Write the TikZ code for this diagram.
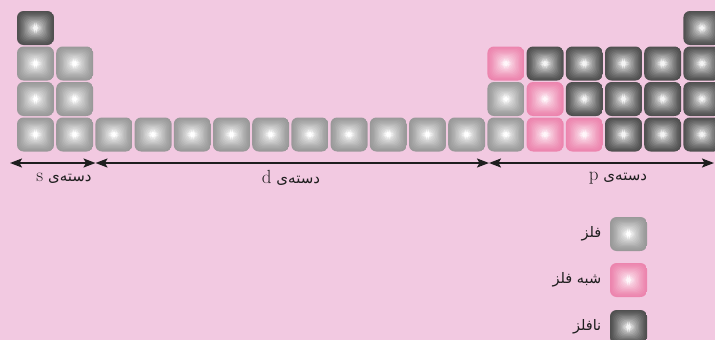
\documentclass[tikz,border=0pt]{standalone}
\usepackage{fontspec}
\usepackage{tikz}
\usetikzlibrary{arrows.meta,positioning,calc}
\newfontfamily\fa[Script=Arabic]{DejaVu Sans}
\TeXXeTstate=1
\definecolor{bgPink}{HTML}{F2C9E1}
\definecolor{metEdge}{HTML}{999999}
\definecolor{metMid}{HTML}{FFFFFF}
\definecolor{semEdge}{HTML}{EC85AE}
\definecolor{semMid}{HTML}{FFF6FA}
\definecolor{nonEdge}{HTML}{505050}
\definecolor{nonMid}{HTML}{F4F4F4}
\definecolor{inkDark}{HTML}{1E1E1E}
\tikzset{
  tile/.style 2 args={rounded corners=6.5pt,minimum width=37pt,minimum height=34pt,
    inner sep=0pt,path picture={
      \foreach \k in {0,...,13}{
        \pgfmathtruncatemacro\pc{100-100*(\k/13)^1.3}
        \fill[#1!\pc!#2]
          ($(path picture bounding box.south west)!\k/28!(path picture bounding box.north east)$)
          rectangle
          ($(path picture bounding box.north east)!\k/28!(path picture bounding box.south west)$);
      }}},
  metal/.style={tile={metEdge}{metMid}},
  semi/.style={tile={semEdge}{semMid}},
  nonmetal/.style={tile={nonEdge}{nonMid}},
  band/.style={line width=1.8pt,draw=inkDark,
    {Stealth[length=12pt,width=9pt,inset=2.5pt]}-{Stealth[length=12pt,width=9pt,inset=2.5pt]}},
  blocklbl/.style={text=inkDark,font=\fontsize{15}{17}\selectfont},
  keylbl/.style={text=inkDark,font=\fontsize{14.5}{16}\selectfont\fa}
}
\newcommand\blockname[1]{\fa\beginR دسته^^^^200cی \beginL{\rmfamily\fontsize{19}{20}\selectfont #1}\endL\endR}

\begin{document}
\begin{tikzpicture}[x=1pt,y=-1pt]
  \fill[bgPink] (0,0) rectangle (715,340);
  \useasboundingbox (0,0) rectangle (715,340);

  \foreach \c/\r in {1/2,1/3,1/4,2/2,2/3,2/4,3/4,4/4,5/4,6/4,7/4,8/4,9/4,10/4,
                     11/4,12/4,13/3,13/4}
    \node[metal] (el-\c-\r) at ({35.5+(\c-1)*39.2},{28+(\r-1)*35.5}) {};
  \foreach \c/\r in {13/2,14/3,14/4,15/4}
    \node[semi] (el-\c-\r) at ({35.5+(\c-1)*39.2},{28+(\r-1)*35.5}) {};
  \foreach \c/\r in {1/1,14/2,15/2,15/3,16/2,16/3,16/4,17/2,17/3,17/4,
                     18/1,18/2,18/3,18/4}
    \node[nonmetal] (el-\c-\r) at ({35.5+(\c-1)*39.2},{28+(\r-1)*35.5}) {};

  \coordinate (sL) at (10,163);
  \coordinate (sd) at (95.5,163);
  \coordinate (dp) at (489,163);
  \coordinate (pR) at (714,163);
  \draw[band] (sL) -- (sd);
  \draw[band] (sd) -- (dp);
  \draw[band] (dp) -- (pR);

  \node[blocklbl] (sname) at (64,178) {\blockname{s}};
  \node[blocklbl] (dname) at (291,178) {\blockname{d}};
  \node[blocklbl] (pname) at (618,178) {\blockname{p}};

  \node[metal] (key1) at (628.5,234) {};
  \node[semi] (key2) at (628.5,280) {};
  \node[nonmetal] (key3) at (628.5,327) {};
  \node[keylbl,left=5pt of key1] (key1txt) {\beginR فلز\endR};
  \node[keylbl,left=5pt of key2] (key2txt) {\beginR شبه فلز\endR};
  \node[keylbl,left=5pt of key3] (key3txt) {\beginR نافلز\endR};
\end{tikzpicture}
\end{document}
